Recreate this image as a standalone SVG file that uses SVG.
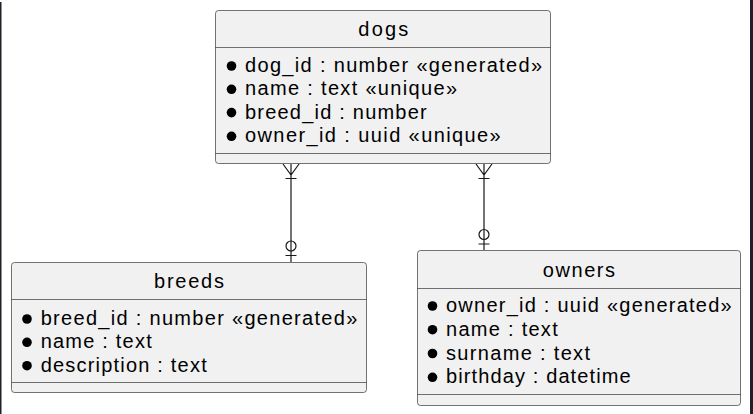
<svg xmlns="http://www.w3.org/2000/svg" width="753" height="414" viewBox="0 0 753 414">
<style>
.box{fill:#F1F1F1;stroke:#181818;stroke-width:0.6}
.sep{stroke:#181818;stroke-width:0.6}
.t{font-family:"Liberation Sans",Arial,sans-serif;font-size:20px;fill:#000}
.title{text-anchor:middle}
.b{fill:#000}
.c{stroke:#181818;stroke-width:1.2;fill:none}
</style>
<rect x="0" y="0" width="753" height="414" fill="#fff"/>
<rect x="0" y="2" width="1.5" height="412" fill="#1e2228"/>
<rect x="750" y="0" width="3" height="414" fill="#1e2228"/>
<g id="connectors">
<path class="c" d="M291,164 V262 M283,164 L291,175 L299,164 M285.5,178.5 H296.5 M285.5,255.5 H296.5"/>
<circle class="c" cx="291" cy="246" r="5" fill="#fff"/>
<path class="c" d="M484,164 V250 M476,164 L484,175 L492,164 M478.5,178.5 H489.5 M478.5,244 H489.5"/>
<circle class="c" cx="484" cy="234.5" r="5" fill="#fff"/>
</g>
<g id="dogs">
<rect class="box" x="215.5" y="10.5" width="335" height="153" rx="3"/>
<text class="t title" x="383.3" y="36" textLength="50" lengthAdjust="spacing">dogs</text>
<line class="sep" x1="215.5" y1="47.5" x2="550.5" y2="47.5"/>
<circle class="b" cx="231.5" cy="66" r="4.8"/>
<text class="t" x="245" y="72" textLength="297" lengthAdjust="spacing">dog_id : number «generated»</text>
<circle class="b" cx="231.5" cy="89.3" r="4.8"/>
<text class="t" x="245" y="95.3" textLength="212" lengthAdjust="spacing">name : text «unique»</text>
<circle class="b" cx="231.5" cy="112.6" r="4.8"/>
<text class="t" x="245" y="118.6" textLength="181.7" lengthAdjust="spacing">breed_id : number</text>
<circle class="b" cx="231.5" cy="136.3" r="4.8"/>
<text class="t" x="245" y="142.3" textLength="255.7" lengthAdjust="spacing">owner_id : uuid «unique»</text>
<line class="sep" x1="215.5" y1="153.5" x2="550.5" y2="153.5"/>
</g>
<g id="breeds">
<rect class="box" x="11.5" y="262.5" width="355" height="130" rx="3"/>
<text class="t title" x="189" y="288.3" textLength="70" lengthAdjust="spacing">breeds</text>
<line class="sep" x1="11.5" y1="299.5" x2="366.5" y2="299.5"/>
<circle class="b" cx="27" cy="319" r="4.8"/>
<text class="t" x="40.7" y="325" textLength="316.6" lengthAdjust="spacing">breed_id : number «generated»</text>
<circle class="b" cx="27" cy="342.3" r="4.8"/>
<text class="t" x="40.7" y="348.3" textLength="111" lengthAdjust="spacing">name : text</text>
<circle class="b" cx="27" cy="365.7" r="4.8"/>
<text class="t" x="40.7" y="371.7" textLength="166" lengthAdjust="spacing">description : text</text>
<line class="sep" x1="11.5" y1="382.5" x2="366.5" y2="382.5"/>
</g>
<g id="owners">
<rect class="box" x="417.5" y="250.5" width="323" height="155" rx="3"/>
<text class="t title" x="578.9" y="276.7" textLength="72.3" lengthAdjust="spacing">owners</text>
<line class="sep" x1="417.5" y1="288.5" x2="740.5" y2="288.5"/>
<circle class="b" cx="432.5" cy="306" r="4.8"/>
<text class="t" x="446" y="312" textLength="285.7" lengthAdjust="spacing">owner_id : uuid «generated»</text>
<circle class="b" cx="432.5" cy="329.7" r="4.8"/>
<text class="t" x="446" y="335.7" textLength="111.7" lengthAdjust="spacing">name : text</text>
<circle class="b" cx="432.5" cy="353.5" r="4.8"/>
<text class="t" x="446" y="359.5" textLength="144" lengthAdjust="spacing">surname : text</text>
<circle class="b" cx="432.5" cy="377.3" r="4.8"/>
<text class="t" x="446" y="383.3" textLength="184.7" lengthAdjust="spacing">birthday : datetime</text>
<line class="sep" x1="417.5" y1="394.5" x2="740.5" y2="394.5"/>
</g>
</svg>
